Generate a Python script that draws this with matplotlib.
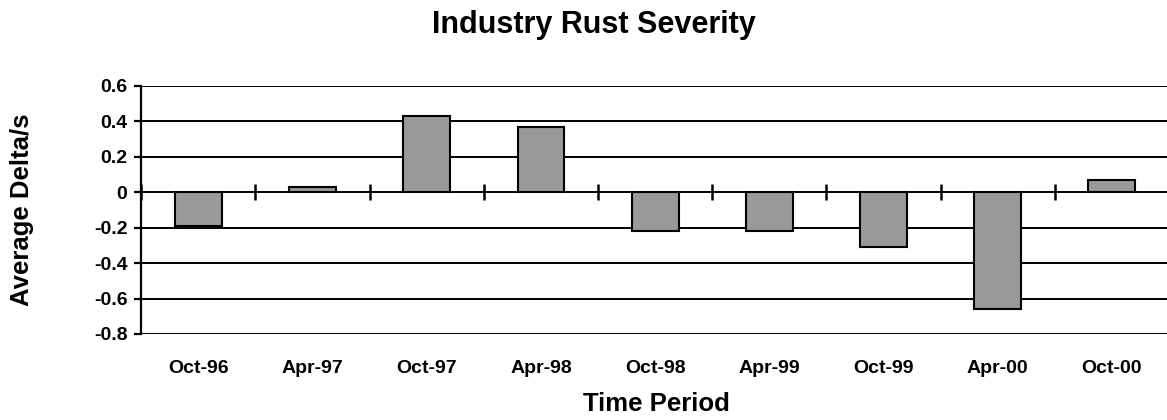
import matplotlib
matplotlib.use("Agg")
import matplotlib.pyplot as plt
import numpy as np

periods = ["Oct-96", "Apr-97", "Oct-97", "Apr-98", "Oct-98",
           "Apr-99", "Oct-99", "Apr-00", "Oct-00"]
avg_delta = [-0.19, 0.03, 0.43, 0.37, -0.22, -0.22, -0.31, -0.66, 0.07]
y_ticks = [-0.8, -0.6, -0.4, -0.2, 0, 0.2, 0.4, 0.6]
y_labels = ["-0.8", "-0.6", "-0.4", "-0.2", "0", "0.2", "0.4", "0.6"]

plt.rcParams['font.family'] = ['Liberation Sans', 'DejaVu Sans']
plt.rcParams['font.weight'] = 'bold'

W, H = 1167, 420
fig = plt.figure(figsize=(W / 100, H / 100), dpi=100)
left, right, top, bottom = 141.3, 1169, 86, 334
ax = fig.add_axes([left / W, (H - bottom) / H, (right - left) / W, (bottom - top) / H])

x = np.arange(len(periods))
ax.bar(x, avg_delta, width=0.41, color="#999999", edgecolor="black",
       linewidth=1.5, zorder=3)

# category separator ticks crossing the zero line
seps = np.arange(-0.5, len(periods) + 0.5, 1.0)
ax.plot(seps, np.zeros_like(seps), linestyle="none", marker="|",
        markersize=11, markeredgewidth=1.8, color="black", zorder=4,
        clip_on=False)

ax.set_xlim(-0.5, len(periods) - 0.5)
ax.set_ylim(-0.8, 0.6)
ax.set_yticks(y_ticks)
ax.set_yticklabels(y_labels)
ax.set_xticks(x)
ax.set_xticklabels(periods)

ax.yaxis.grid(True, color="black", linewidth=1.4, zorder=1)
ax.set_axisbelow(True)
for s in ["top", "right", "bottom"]:
    ax.spines[s].set_visible(False)
ax.spines["left"].set_linewidth(1.6)

ax.tick_params(axis="y", direction="out", length=5, width=1.6, pad=5,
               labelsize=14)
ax.tick_params(axis="x", length=0, pad=19, labelsize=14)

fig.text(594 / W, 1 - 25 / H, "Industry Rust Severity", ha="center",
         va="center", fontsize=22, fontweight="bold")
fig.text(656 / W, 1 - 404 / H, "Time Period", ha="center", va="center",
         fontsize=18.5, fontweight="bold")
fig.text(22 / W, 1 - 210 / H, "Average Delta/s", ha="center", va="center",
         rotation=90, fontsize=18.5, fontweight="bold")

fig.savefig("out.png", dpi=100)
